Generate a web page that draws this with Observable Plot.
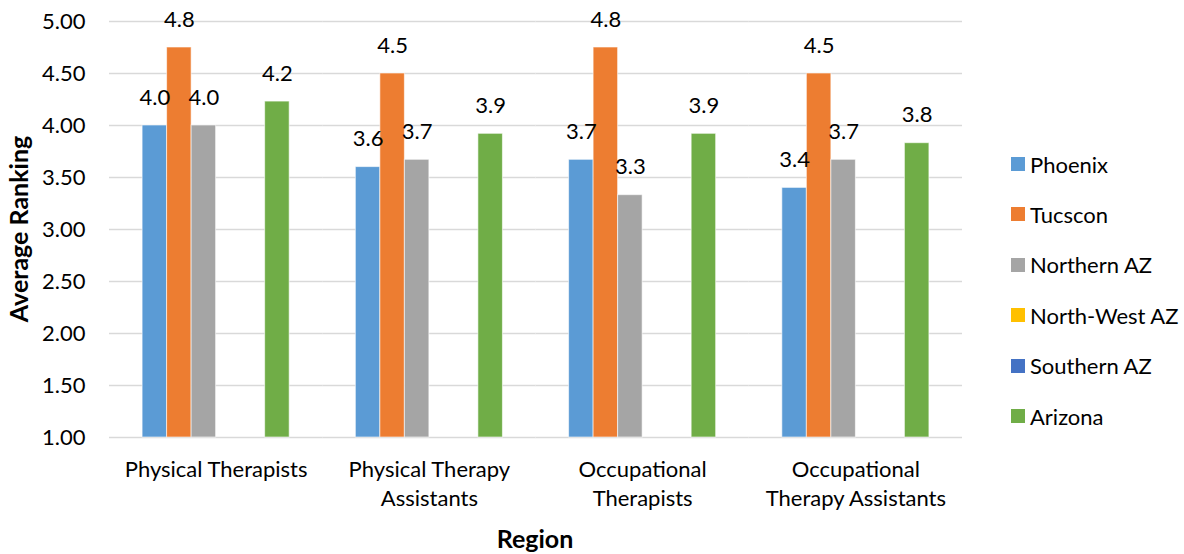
<!DOCTYPE html>
<html>
<head>
<meta charset="utf-8">
<script src="https://cdn.jsdelivr.net/npm/d3@7"></script>
<script src="https://cdn.jsdelivr.net/npm/@observablehq/plot@0.6"></script>
<style>
  html, body { margin: 0; padding: 0; background: #fff; }
  #wrap { position: relative; width: 1184px; height: 554px; font-family: Lato, "Open Sans", sans-serif; color: #000; }
  #wrap svg { position: absolute; left: 0; top: 0; }
  .title { position: absolute; font-weight: bold; font-size: 25px; white-space: nowrap; }
  .legend-item { position: absolute; left: 1011px; height: 22px; display: flex; align-items: center; font-size: 22px; white-space: nowrap; transform: translateY(-50%); }
  .swatch { width: 14px; height: 14px; margin-right: 5px; }
</style>
</head>
<body>
<div id="wrap"></div>
<script>
const categories = ["Physical Therapists", "Physical Therapy Assistants", "Occupational Therapists", "Occupational Therapy Assistants"];
const categoryLabels = ["Physical Therapists", "Physical Therapy\nAssistants", "Occupational\nTherapists", "Occupational\nTherapy Assistants"];
const series = ["Phoenix", "Tucscon", "Northern AZ", "North-West AZ", "Southern AZ", "Arizona"];
const colors = ["#5B9BD5", "#ED7D31", "#A5A5A5", "#FFC000", "#4472C4", "#70AD47"];
const phoenix = [4.0, 3.6, 3.67, 3.4];
const tucscon = [4.75, 4.5, 4.75, 4.5];
const northernAZ = [4.0, 3.67, 3.33, 3.67];
const northWestAZ = [null, null, null, null];
const southernAZ = [null, null, null, null];
const arizona = [4.23, 3.92, 3.92, 3.83];
const yTicks = [1, 1.5, 2, 2.5, 3, 3.5, 4, 4.5, 5];

const seriesValues = [phoenix, tucscon, northernAZ, northWestAZ, southernAZ, arizona];
const rows = [];
series.forEach((s, si) => {
  categories.forEach((c, ci) => {
    const v = seriesValues[si][ci];
    if (v != null) rows.push({category: c, series: s, value: v});
  });
});
const labelOf = new Map(categories.map((c, i) => [c, categoryLabels[i]]));

const chart = Plot.plot({
  width: 1184,
  height: 554,
  marginLeft: 109,
  marginRight: 222,
  marginTop: 21,
  marginBottom: 117,
  style: {fontFamily: "Lato, 'Open Sans', sans-serif", fontSize: "22px", color: "#000", background: "transparent"},
  fx: {domain: categories, padding: 0, round: false, label: null},
  x: {domain: series, paddingInner: 0, paddingOuter: 1.35, round: false, axis: null},
  y: {domain: [1, 5], label: null},
  color: {domain: series, range: colors},
  marks: [
    Plot.gridY(yTicks, {stroke: "#d9d9d9", strokeOpacity: 1, strokeWidth: 1.5}),
    Plot.axisY(yTicks, {tickFormat: d3.format(".2f"), tickSize: 0, tickPadding: 24, fontSize: 22, label: null}),
    Plot.axisFx({anchor: "bottom", tickFormat: d => labelOf.get(d), tickSize: 0, tickPadding: 19, fontSize: 22, lineHeight: 1.32, label: null}),
    Plot.barY(rows, {fx: "category", x: "series", y1: 1, y2: "value", fill: "series", stroke: "white", strokeOpacity: 0.6, strokeWidth: 1}),
    Plot.text(rows, {fx: "category", x: "series", y: "value", text: d => d.value.toFixed(1), dy: -28, fontSize: 22, fill: "#000"})
  ]
});
const wrap = document.getElementById("wrap");
wrap.appendChild(chart);

const yTitle = document.createElement("div");
yTitle.className = "title";
yTitle.textContent = "Average Ranking";
yTitle.style.left = "18px";
yTitle.style.top = "229px";
yTitle.style.transform = "translate(-50%, -50%) rotate(-90deg)";
wrap.appendChild(yTitle);

const xTitle = document.createElement("div");
xTitle.className = "title";
xTitle.textContent = "Region";
xTitle.style.left = "535px";
xTitle.style.top = "538px";
xTitle.style.transform = "translate(-50%, -50%)";
wrap.appendChild(xTitle);

series.forEach((s, i) => {
  const item = document.createElement("div");
  item.className = "legend-item";
  item.style.top = (164 + 50.4 * i) + "px";
  const sw = document.createElement("span");
  sw.className = "swatch";
  sw.style.background = colors[i];
  const t = document.createElement("span");
  t.textContent = s;
  item.appendChild(sw);
  item.appendChild(t);
  wrap.appendChild(item);
});
</script>
</body>
</html>
